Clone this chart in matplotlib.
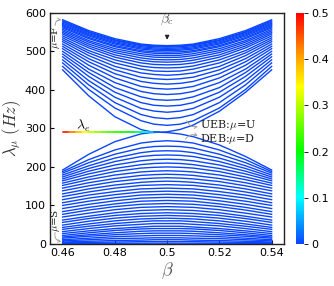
import numpy as np
import matplotlib
matplotlib.use('Agg')
import matplotlib.pyplot as plt
from matplotlib.collections import LineCollection
from matplotlib.colors import LinearSegmentedColormap, Normalize

plt.rcParams['mathtext.fontset'] = 'cm'
plt.rcParams['font.family'] = 'DejaVu Sans'

# ---------------------------------------------------------------
# data
# ---------------------------------------------------------------
beta_nodes = [0.46, 0.47, 0.48, 0.49, 0.495, 0.5, 0.505, 0.51, 0.52, 0.53, 0.54]

# upper band (U-shaped curves), lowest -> highest
upper_rows = [
    [461, 401, 353, 320, 311, 308, 311, 320, 353, 401, 461],
    [470, 413, 367, 336, 328, 325, 328, 336, 367, 413, 470],
    [478, 424, 381, 352, 345, 342, 345, 352, 381, 424, 478],
    [486, 435, 394, 367, 360, 358, 360, 367, 394, 435, 486],
    [493, 445, 406, 382, 375, 373, 375, 382, 406, 445, 493],
    [500, 454, 419, 396, 390, 388, 390, 396, 419, 454, 500],
    [507, 464, 431, 409, 404, 402, 404, 409, 431, 464, 507],
    [513, 473, 442, 422, 417, 415, 417, 422, 442, 473, 513],
    [519, 481, 452, 433, 429, 427, 429, 433, 452, 481, 519],
    [525, 489, 461, 444, 440, 438, 440, 444, 461, 489, 525],
    [530, 496, 470, 454, 449, 448, 449, 454, 470, 496, 530],
    [535, 502, 478, 462, 458, 457, 458, 462, 478, 502, 535],
    [540, 509, 485, 470, 466, 465, 466, 470, 485, 509, 540],
    [545, 514, 491, 477, 473, 472, 473, 477, 491, 514, 545],
    [549, 519, 497, 483, 479, 478, 479, 483, 497, 519, 549],
    [553, 524, 502, 489, 485, 484, 485, 489, 502, 524, 553],
    [557, 528, 507, 494, 490, 489, 490, 494, 507, 528, 557],
    [561, 533, 512, 499, 495, 494, 495, 499, 512, 533, 561],
    [564, 536, 515, 502, 499, 498, 499, 502, 515, 536, 564],
    [567, 540, 519, 506, 503, 502, 503, 506, 519, 540, 567],
    [570, 543, 522, 509, 506, 505, 506, 509, 522, 543, 570],
    [573, 546, 525, 512, 509, 508, 509, 512, 525, 546, 573],
    [576, 549, 528, 515, 512, 511, 512, 515, 528, 549, 576],
    [579, 551, 530, 517, 514, 513, 514, 517, 530, 551, 579],
    [582, 554, 533, 519, 516, 515, 516, 519, 533, 554, 582],
]

# lower band (cap-shaped curves), highest -> lowest
lower_rows = [
    [188, 219, 244, 262, 266, 268, 266, 262, 244, 219, 188],
    [184, 211, 233, 249, 253, 254, 253, 249, 233, 211, 184],
    [179, 203, 223, 237, 241, 242, 241, 237, 223, 203, 179],
    [174, 196, 214, 227, 230, 231, 230, 227, 214, 196, 174],
    [169, 189, 205, 216, 219, 220, 219, 216, 205, 189, 169],
    [164, 182, 196, 206, 209, 210, 209, 206, 196, 182, 164],
    [158, 174, 188, 197, 199, 200, 199, 197, 188, 174, 158],
    [152, 167, 179, 187, 189, 190, 189, 187, 179, 167, 152],
    [145, 159, 170, 178, 180, 181, 180, 178, 170, 159, 145],
    [138, 151, 162, 169, 171, 172, 171, 169, 162, 151, 138],
    [130, 143, 153, 160, 162, 163, 162, 160, 153, 143, 130],
    [123, 135, 145, 152, 153, 154, 153, 152, 145, 135, 123],
    [115, 127, 136, 143, 144, 145, 144, 143, 136, 127, 115],
    [107, 119, 128, 135, 136, 137, 136, 135, 128, 119, 107],
    [100, 111, 120, 127, 128, 129, 128, 127, 120, 111, 100],
    [92, 103, 112, 119, 120, 121, 120, 119, 112, 103, 92],
    [84, 95, 104, 111, 112, 113, 112, 111, 104, 95, 84],
    [77, 88, 97, 103, 104, 105, 104, 103, 97, 88, 77],
    [70, 80, 89, 95, 96, 97, 96, 95, 89, 80, 70],
    [62, 72, 81, 87, 88, 89, 88, 87, 81, 72, 62],
    [56, 66, 74, 79, 80, 81, 80, 79, 74, 66, 56],
    [49, 59, 67, 72, 73, 74, 73, 72, 67, 59, 49],
    [43, 52, 60, 65, 66, 67, 66, 65, 60, 52, 43],
    [38, 46, 53, 58, 60, 60, 60, 58, 53, 46, 38],
    [32, 40, 47, 51, 53, 53, 53, 51, 47, 40, 32],
    [27, 34, 40, 44, 46, 46, 46, 44, 40, 34, 27],
    [22, 29, 35, 39, 40, 40, 40, 39, 35, 29, 22],
    [18, 24, 29, 33, 34, 34, 34, 33, 29, 24, 18],
    [15, 20, 24, 27, 28, 28, 28, 27, 24, 20, 15],
    [11, 15, 19, 21, 22, 22, 22, 21, 19, 15, 11],
    [8, 11, 14, 15, 16, 16, 16, 15, 14, 11, 8],
    [5, 7, 9, 10, 11, 11, 11, 10, 9, 7, 5],
    [3, 4, 5, 6, 6, 6, 6, 6, 5, 4, 3],
    [1, 1.4, 1.7, 1.9, 2, 2, 2, 1.9, 1.7, 1.4, 1],
]

# the two branches that touch the lambda_e level
beta_cross = [0.46, 0.47, 0.48, 0.49, 0.4935, 0.4968, 0.5, 0.505, 0.51, 0.52, 0.53, 0.54]
ueb_vals = [452, 384.5, 330.3, 297.0, 291.7, 290, 291.1, 297.4, 308.8, 344.6, 393.8, 452]
deb_vals = [192, 232.8, 265.6, 285.8, 289.0, 290, 289.3, 285.5, 278.6, 257.0, 227.2, 192]

# flat lambda_e line and its colour weight
beta_e = [0.46, 0.4625, 0.465, 0.4675, 0.47, 0.4725, 0.475, 0.4775, 0.48,
          0.4825, 0.485, 0.4875, 0.49, 0.4925, 0.495, 0.4968]
lam_e = [290] * len(beta_e)
weight_e = [0.5, 0.45, 0.40, 0.36, 0.32, 0.29, 0.27, 0.25, 0.23,
            0.22, 0.20, 0.18, 0.15, 0.10, 0.04, 0.0]

x_ticks = [0.46, 0.48, 0.5, 0.52, 0.54]
x_labels = ['0.46', '0.48', '0.5', '0.52', '0.54']
y_ticks = [0, 100, 200, 300, 400, 500, 600]
cbar_ticks = [0, 0.1, 0.2, 0.3, 0.4, 0.5]
cbar_labels = ['0', '0.1', '0.2', '0.3', '0.4', '0.5']

# ---------------------------------------------------------------
cmap = LinearSegmentedColormap.from_list('spec', [
    (0.0, '#0a46ff'), (0.2, '#00ffff'), (0.4, '#00ff00'),
    (0.68, '#ffff00'), (0.8, '#ffaa00'), (1.0, '#ff0000')])
norm = Normalize(0, 0.5)
blue = cmap(0.0)

fig = plt.figure(figsize=(3.34, 2.86), dpi=100)
ax = fig.add_axes([0.150, 0.147, 0.700, 0.808])
cax = fig.add_axes([0.886, 0.147, 0.024, 0.808])

lw = 1.0
for row in upper_rows:
    ax.plot(beta_nodes, row, color=blue, lw=lw)
for row in lower_rows:
    ax.plot(beta_nodes, row, color=blue, lw=lw)
ax.plot(beta_cross, ueb_vals, color=blue, lw=lw)
ax.plot(beta_cross, deb_vals, color=blue, lw=lw)

pts = np.column_stack([beta_e, lam_e])
segs = np.stack([pts[:-1], pts[1:]], axis=1)
w = np.asarray(weight_e)
lc = LineCollection(segs, cmap=cmap, norm=norm, lw=1.3, capstyle='round')
lc.set_array(0.5 * (w[:-1] + w[1:]))
ax.add_collection(lc)

ax.set_xlim(0.4552, 0.5447)
ax.set_ylim(0, 600)
ax.set_xticks(x_ticks)
ax.set_xticklabels(x_labels)
ax.set_yticks(y_ticks)
ax.tick_params(direction='in', length=3, labelsize=8, pad=3)
for s in ax.spines.values():
    s.set_linewidth(1.0)
    s.set_color('#222222')

ax.set_xlabel(r'$\beta$', fontsize=13, color='#555555', labelpad=2)
ax.set_ylabel(r'$\lambda_\mu\ (Hz)$', fontsize=12, color='#333333', labelpad=1)

# annotations
ax.annotate(r'$\beta_c$', xy=(0.5, 530), xytext=(0.5, 582), ha='center', va='center',
            fontsize=10, color='#555555',
            arrowprops=dict(arrowstyle='-|>', color='#222222', lw=0.8,
                            mutation_scale=6, shrinkA=5, shrinkB=0))
ax.text(0.4680, 306, r'$\lambda_e$', fontsize=10, ha='center', va='center')

serif = 'DejaVu Serif'
ax.text(0.5125, 309, r'UEB:$\mu$=U', fontsize=8, family=serif, va='center', color='#222222')
ax.text(0.5125, 273, r'DEB:$\mu$=D', fontsize=8, family=serif, va='center', color='#222222')
gray = dict(arrowstyle='->', color='#999999', lw=0.6, mutation_scale=5, shrinkA=0, shrinkB=0)
ax.annotate('', xy=(0.5117, 305), xytext=(0.5075, 320),
            arrowprops=dict(gray, connectionstyle='arc3,rad=0.4'))
ax.annotate('', xy=(0.5117, 281), xytext=(0.5070, 272),
            arrowprops=dict(gray, connectionstyle='arc3,rad=-0.4'))

ax.text(0.4572, 537, r'$\mu$=F', rotation=90, fontsize=7.5, family=serif,
        ha='center', va='center', color='#222222')
ax.annotate('', xy=(0.4595, 582), xytext=(0.4571, 567),
            arrowprops=dict(gray, connectionstyle='arc3,rad=-0.5'))
ax.text(0.4572, 62, r'$\mu$=S', rotation=90, fontsize=7.5, family=serif,
        ha='center', va='center', color='#222222')
ax.annotate('', xy=(0.4595, 6), xytext=(0.4571, 30),
            arrowprops=dict(gray, connectionstyle='arc3,rad=0.5'))

cb = fig.colorbar(lc, cax=cax, ticks=cbar_ticks)
cb.set_ticklabels(cbar_labels)
cb.outline.set_visible(False)
cax.tick_params(labelsize=8, length=3, width=0.6, pad=2)

fig.savefig('out.png', dpi=100)
